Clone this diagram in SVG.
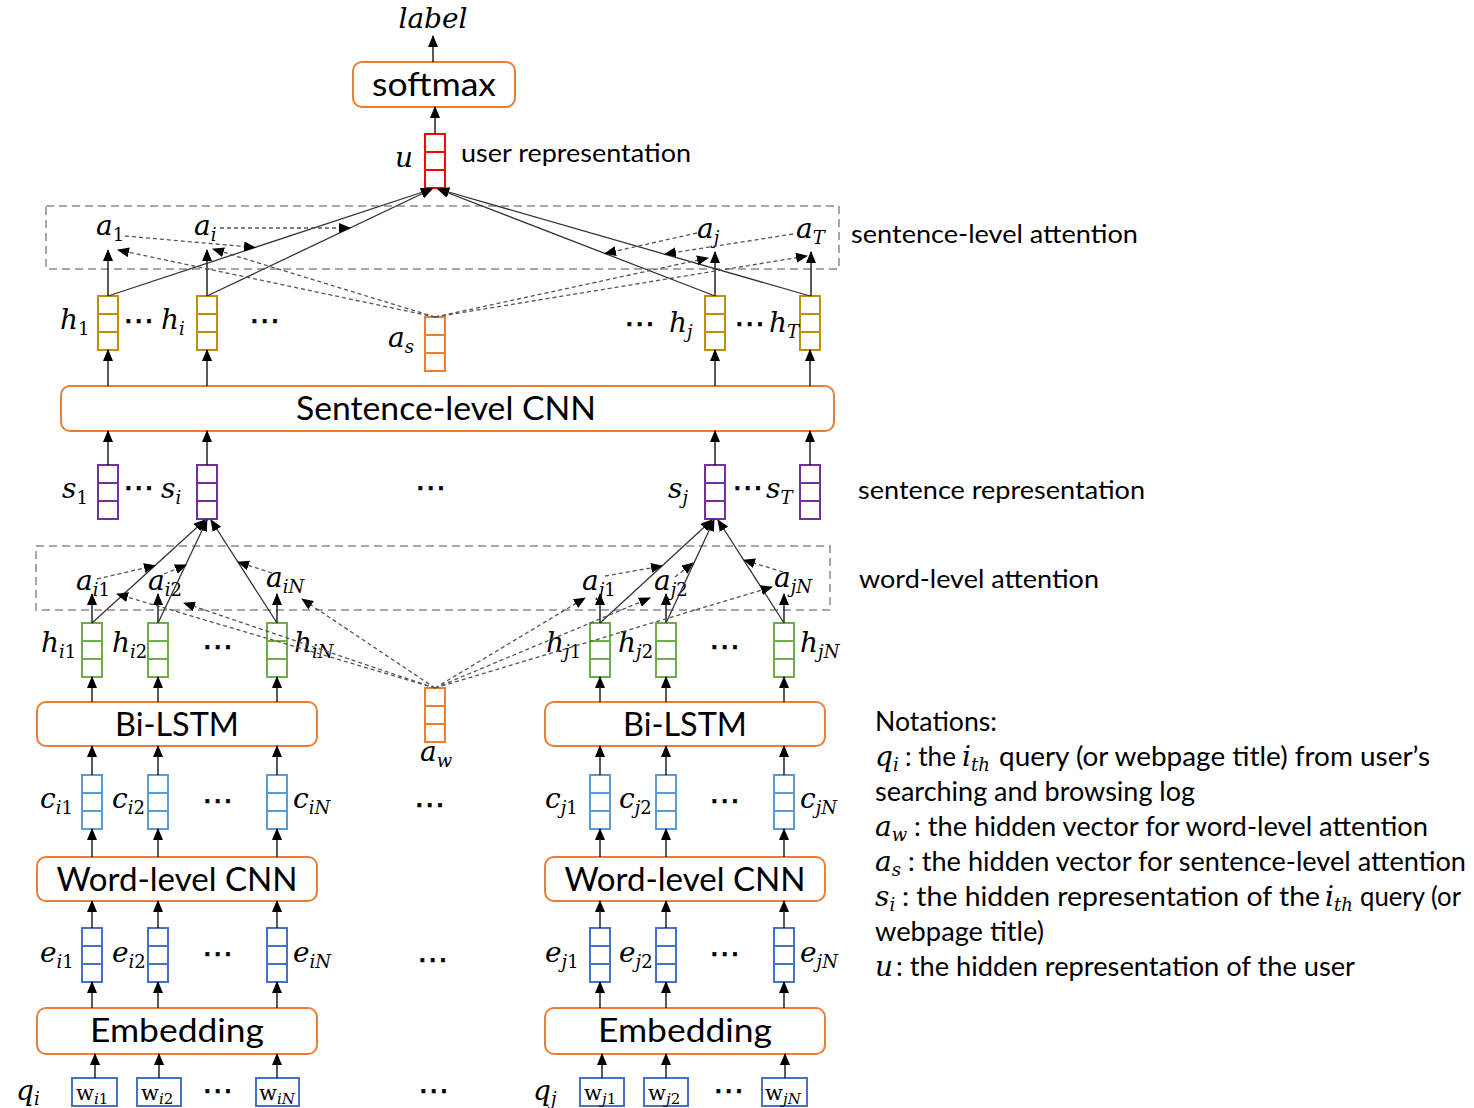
<svg xmlns="http://www.w3.org/2000/svg" width="1474" height="1108" viewBox="0 0 1474 1108">
<defs>
<marker id="ah" viewBox="0 0 12 10" refX="11" refY="5" markerWidth="12" markerHeight="10" markerUnits="userSpaceOnUse" orient="auto"><path d="M0,0 L12,5 L0,10 Z" fill="#000"/></marker>
</defs>
<style>
.box{fill:#fff;stroke:#ED7D31;stroke-width:2}
.bt{font-family:Lato,"Open Sans",sans-serif;font-size:33px;text-anchor:middle;fill:#000}
.t{font-family:Lato,"Open Sans",sans-serif;font-size:25px;fill:#000}
.nt{font-family:Lato,"Open Sans",sans-serif;font-size:27px;fill:#000}
.m{font-family:"DejaVu Serif",serif;font-style:italic;font-size:28px;fill:#000}
.w{font-family:"DejaVu Serif",serif;font-size:21px;fill:#000}
.sb{font-size:18px}
.w .sb{font-size:15px}
.n{font-style:normal}
.dots{font-family:"DejaVu Sans",sans-serif;font-size:31px;fill:#000;stroke:#000;stroke-width:0.6}
.v{fill:none;stroke-width:2}
.red{stroke:#FF0000}.org{stroke:#ED7D31}.gold{stroke:#BF9000}.pur{stroke:#7030A0}.grn{stroke:#70AD47}.lb{stroke:#5B9BD5}.blu{stroke:#4472C4}
.att{fill:none;stroke:#A6A6A6;stroke-width:2;stroke-dasharray:8 5}
.ar{stroke:#000;stroke-width:1.3;fill:none;marker-end:url(#ah)}
.sl{stroke:#333;stroke-width:1.3;fill:none;marker-end:url(#ah)}
.da{stroke:#555;stroke-width:1.3;stroke-dasharray:4 3;fill:none;marker-end:url(#ah)}
</style>
<rect width="1474" height="1108" fill="#fff"/>

<g id="attention-regions">
<rect class="att" x="46" y="206" width="793" height="63"/>
<rect class="att" x="36" y="546" width="794" height="64"/>
<text class="t" x="851" y="243" textLength="287" lengthAdjust="spacingAndGlyphs">sentence-level attention</text>
<text class="t" x="859" y="588" textLength="240" lengthAdjust="spacingAndGlyphs">word-level attention</text>
</g>

<g id="output">
<text class="m" x="433" y="28" text-anchor="middle" font-size="26">label</text>
<g id="softmax"><rect class="box" x="353" y="62" width="162" height="45" rx="9"/><text class="bt" x="434" y="96" textLength="124" lengthAdjust="spacingAndGlyphs">softmax</text></g>
<g id="u"><rect class="v red" x="425" y="134" width="20" height="54"/><path class="v red" d="M425 152h20M425 170h20"/>
<text class="m" x="395" y="167">u</text>
<text class="t" x="461" y="162" textLength="230" lengthAdjust="spacingAndGlyphs">user representation</text></g>
</g>

<g id="sentence-level">
<g id="a-sent-labels">
<text class="m" x="96" y="235">a<tspan class="sb n" dy="6">1</tspan></text>
<text class="m" x="194" y="235">a<tspan class="sb" dy="6">i</tspan></text>
<text class="m" x="697" y="238">a<tspan class="sb" dy="6">j</tspan></text>
<text class="m" x="796" y="238">a<tspan class="sb" dy="6">T</tspan></text>
</g>
<g id="h-sent">
<rect class="v gold" x="98" y="296" width="20" height="54"/><path class="v gold" d="M98 314h20M98 332h20"/>
<rect class="v gold" x="197" y="296" width="20" height="54"/><path class="v gold" d="M197 314h20M197 332h20"/>
<rect class="v gold" x="705" y="296" width="20" height="54"/><path class="v gold" d="M705 314h20M705 332h20"/>
<rect class="v gold" x="800" y="296" width="20" height="54"/><path class="v gold" d="M800 314h20M800 332h20"/>
<text class="m" x="60" y="329">h<tspan class="sb n" dy="6">1</tspan></text>
<text class="dots" x="123" y="331">⋯</text>
<text class="m" x="161" y="329">h<tspan class="sb" dy="6">i</tspan></text>
<text class="dots" x="249" y="331">⋯</text>
<text class="dots" x="624" y="334">⋯</text>
<text class="m" x="669" y="332">h<tspan class="sb" dy="6">j</tspan></text>
<text class="dots" x="734" y="334">⋯</text>
<text class="m" x="769" y="332">h<tspan class="sb" dy="6">T</tspan></text>
</g>
<g id="a_s"><rect class="v org" x="425" y="317" width="20" height="54"/><path class="v org" d="M425 335h20M425 353h20"/>
<text class="m" x="388" y="347">a<tspan class="sb" dy="6">s</tspan></text></g>
<g id="sentence-cnn"><rect class="box" x="61" y="386" width="773" height="45" rx="9"/><text class="bt" x="446" y="420" textLength="300" lengthAdjust="spacingAndGlyphs">Sentence-level CNN</text></g>
<g id="s-vectors">
<rect class="v pur" x="98" y="465" width="20" height="54"/><path class="v pur" d="M98 483h20M98 501h20"/>
<rect class="v pur" x="197" y="465" width="20" height="54"/><path class="v pur" d="M197 483h20M197 501h20"/>
<rect class="v pur" x="705" y="465" width="20" height="54"/><path class="v pur" d="M705 483h20M705 501h20"/>
<rect class="v pur" x="800" y="465" width="20" height="54"/><path class="v pur" d="M800 483h20M800 501h20"/>
<text class="m" x="62" y="498">s<tspan class="sb n" dy="6">1</tspan></text>
<text class="dots" x="123" y="498">⋯</text>
<text class="m" x="161" y="498">s<tspan class="sb" dy="6">i</tspan></text>
<text class="dots" x="415" y="498">⋯</text>
<text class="m" x="668" y="498">s<tspan class="sb" dy="6">j</tspan></text>
<text class="dots" x="732" y="498">⋯</text>
<text class="m" x="766" y="498">s<tspan class="sb" dy="6">T</tspan></text>
<text class="t" x="858" y="499" textLength="287" lengthAdjust="spacingAndGlyphs">sentence representation</text>
</g>
</g>

<g id="word-level">
<g id="a-word-labels">
<text class="m" x="76" y="590">a<tspan class="sb" dy="6">i</tspan><tspan class="sb n">1</tspan></text>
<text class="m" x="148" y="590">a<tspan class="sb" dy="6">i</tspan><tspan class="sb n">2</tspan></text>
<text class="m" x="266" y="587">a<tspan class="sb" dy="6">iN</tspan></text>
<text class="m" x="582" y="590">a<tspan class="sb" dy="6">j</tspan><tspan class="sb n">1</tspan></text>
<text class="m" x="654" y="590">a<tspan class="sb" dy="6">j</tspan><tspan class="sb n">2</tspan></text>
<text class="m" x="774" y="587">a<tspan class="sb" dy="6">jN</tspan></text>
</g>
<g id="h-word">
<rect class="v grn" x="82" y="623" width="20" height="54"/><path class="v grn" d="M82 641h20M82 659h20"/>
<rect class="v grn" x="148" y="623" width="20" height="54"/><path class="v grn" d="M148 641h20M148 659h20"/>
<rect class="v grn" x="267" y="623" width="20" height="54"/><path class="v grn" d="M267 641h20M267 659h20"/>
<rect class="v grn" x="590" y="623" width="20" height="54"/><path class="v grn" d="M590 641h20M590 659h20"/>
<rect class="v grn" x="656" y="623" width="20" height="54"/><path class="v grn" d="M656 641h20M656 659h20"/>
<rect class="v grn" x="774" y="623" width="20" height="54"/><path class="v grn" d="M774 641h20M774 659h20"/>
<text class="m" x="41" y="652">h<tspan class="sb" dy="6">i</tspan><tspan class="sb n">1</tspan></text>
<text class="m" x="112" y="652">h<tspan class="sb" dy="6">i</tspan><tspan class="sb n">2</tspan></text>
<text class="dots" x="202" y="657">⋯</text>
<text class="m" x="294" y="652">h<tspan class="sb" dy="6">iN</tspan></text>
<text class="m" x="546" y="652">h<tspan class="sb" dy="6">j</tspan><tspan class="sb n">1</tspan></text>
<text class="m" x="618" y="652">h<tspan class="sb" dy="6">j</tspan><tspan class="sb n">2</tspan></text>
<text class="dots" x="709" y="657">⋯</text>
<text class="m" x="800" y="652">h<tspan class="sb" dy="6">jN</tspan></text>
</g>
<g id="a_w"><rect class="v org" x="425" y="688" width="20" height="54"/><path class="v org" d="M425 706h20M425 724h20"/>
<text class="m" x="420" y="761">a<tspan class="sb" dy="6">w</tspan></text></g>
<g id="bilstm-i"><rect class="box" x="37" y="702" width="280" height="44" rx="9"/><text class="bt" x="177" y="736" textLength="124" lengthAdjust="spacingAndGlyphs">Bi-LSTM</text></g>
<g id="bilstm-j"><rect class="box" x="545" y="702" width="280" height="44" rx="9"/><text class="bt" x="685" y="736" textLength="124" lengthAdjust="spacingAndGlyphs">Bi-LSTM</text></g>
<g id="c-vectors">
<rect class="v lb" x="82" y="775" width="20" height="54"/><path class="v lb" d="M82 793h20M82 811h20"/>
<rect class="v lb" x="148" y="775" width="20" height="54"/><path class="v lb" d="M148 793h20M148 811h20"/>
<rect class="v lb" x="267" y="775" width="20" height="54"/><path class="v lb" d="M267 793h20M267 811h20"/>
<rect class="v lb" x="590" y="775" width="20" height="54"/><path class="v lb" d="M590 793h20M590 811h20"/>
<rect class="v lb" x="656" y="775" width="20" height="54"/><path class="v lb" d="M656 793h20M656 811h20"/>
<rect class="v lb" x="774" y="775" width="20" height="54"/><path class="v lb" d="M774 793h20M774 811h20"/>
<text class="m" x="40" y="808">c<tspan class="sb" dy="6">i</tspan><tspan class="sb n">1</tspan></text>
<text class="m" x="112" y="808">c<tspan class="sb" dy="6">i</tspan><tspan class="sb n">2</tspan></text>
<text class="dots" x="202" y="811">⋯</text>
<text class="m" x="293" y="808">c<tspan class="sb" dy="6">iN</tspan></text>
<text class="dots" x="414" y="815">⋯</text>
<text class="m" x="545" y="808">c<tspan class="sb" dy="6">j</tspan><tspan class="sb n">1</tspan></text>
<text class="m" x="619" y="808">c<tspan class="sb" dy="6">j</tspan><tspan class="sb n">2</tspan></text>
<text class="dots" x="709" y="811">⋯</text>
<text class="m" x="800" y="808">c<tspan class="sb" dy="6">jN</tspan></text>
</g>
<g id="wcnn-i"><rect class="box" x="37" y="857" width="280" height="44" rx="9"/><text class="bt" x="177" y="891" textLength="241" lengthAdjust="spacingAndGlyphs">Word-level CNN</text></g>
<g id="wcnn-j"><rect class="box" x="545" y="857" width="280" height="44" rx="9"/><text class="bt" x="685" y="891" textLength="241" lengthAdjust="spacingAndGlyphs">Word-level CNN</text></g>
<g id="e-vectors">
<rect class="v blu" x="82" y="928" width="20" height="54"/><path class="v blu" d="M82 946h20M82 964h20"/>
<rect class="v blu" x="148" y="928" width="20" height="54"/><path class="v blu" d="M148 946h20M148 964h20"/>
<rect class="v blu" x="267" y="928" width="20" height="54"/><path class="v blu" d="M267 946h20M267 964h20"/>
<rect class="v blu" x="590" y="928" width="20" height="54"/><path class="v blu" d="M590 946h20M590 964h20"/>
<rect class="v blu" x="656" y="928" width="20" height="54"/><path class="v blu" d="M656 946h20M656 964h20"/>
<rect class="v blu" x="774" y="928" width="20" height="54"/><path class="v blu" d="M774 946h20M774 964h20"/>
<text class="m" x="40" y="962">e<tspan class="sb" dy="6">i</tspan><tspan class="sb n">1</tspan></text>
<text class="m" x="112" y="962">e<tspan class="sb" dy="6">i</tspan><tspan class="sb n">2</tspan></text>
<text class="dots" x="202" y="964">⋯</text>
<text class="m" x="293" y="962">e<tspan class="sb" dy="6">iN</tspan></text>
<text class="dots" x="417" y="970">⋯</text>
<text class="m" x="545" y="962">e<tspan class="sb" dy="6">j</tspan><tspan class="sb n">1</tspan></text>
<text class="m" x="619" y="962">e<tspan class="sb" dy="6">j</tspan><tspan class="sb n">2</tspan></text>
<text class="dots" x="709" y="964">⋯</text>
<text class="m" x="800" y="962">e<tspan class="sb" dy="6">jN</tspan></text>
</g>
<g id="emb-i"><rect class="box" x="37" y="1008" width="280" height="46" rx="9"/><text class="bt" x="177" y="1042" textLength="174" lengthAdjust="spacingAndGlyphs">Embedding</text></g>
<g id="emb-j"><rect class="box" x="545" y="1008" width="280" height="46" rx="9"/><text class="bt" x="685" y="1042" textLength="174" lengthAdjust="spacingAndGlyphs">Embedding</text></g>
<g id="words">
<text class="m" x="16" y="1100">q<tspan class="sb" dy="5">i</tspan></text>
<rect class="v blu" x="72" y="1078" width="45" height="28"/>
<text class="w" x="76" y="1100">w<tspan class="sb" dy="4" font-style="italic">i</tspan><tspan class="sb">1</tspan></text>
<rect class="v blu" x="137" y="1078" width="44" height="28"/>
<text class="w" x="141" y="1100">w<tspan class="sb" dy="4" font-style="italic">i</tspan><tspan class="sb">2</tspan></text>
<text class="dots" x="202" y="1101">⋯</text>
<rect class="v blu" x="256" y="1078" width="43" height="28"/>
<text class="w" x="259" y="1100">w<tspan class="sb" dy="4" font-style="italic">iN</tspan></text>
<text class="dots" x="418" y="1101">⋯</text>
<text class="m" x="533" y="1100">q<tspan class="sb" dy="5">j</tspan></text>
<rect class="v blu" x="580" y="1078" width="44" height="28"/>
<text class="w" x="584" y="1100">w<tspan class="sb" dy="4" font-style="italic">j</tspan><tspan class="sb">1</tspan></text>
<rect class="v blu" x="644" y="1078" width="44" height="28"/>
<text class="w" x="648" y="1100">w<tspan class="sb" dy="4" font-style="italic">j</tspan><tspan class="sb">2</tspan></text>
<text class="dots" x="713" y="1101">⋯</text>
<rect class="v blu" x="762" y="1078" width="45" height="28"/>
<text class="w" x="765" y="1100">w<tspan class="sb" dy="4" font-style="italic">jN</tspan></text>
</g>
</g>

<g id="connectors">
<path class="ar" d="M433 62V36"/>
<path class="ar" d="M435 134V107"/>
<path class="ar" d="M108 296V250"/><path class="ar" d="M207 296V250"/><path class="ar" d="M715 296V252"/><path class="ar" d="M811 296V252"/>
<path class="ar" d="M108 386V350"/><path class="ar" d="M207 386V350"/><path class="ar" d="M715 386V350"/><path class="ar" d="M810 386V350"/>
<path class="ar" d="M108 465V431"/><path class="ar" d="M207 465V431"/><path class="ar" d="M715 465V431"/><path class="ar" d="M810 465V431"/>
<path class="ar" d="M92 623V594"/><path class="ar" d="M158 623V594"/><path class="ar" d="M277 623V594"/><path class="ar" d="M600 623V594"/><path class="ar" d="M666 623V594"/><path class="ar" d="M784 623V594"/>
<path class="ar" d="M92 702V677"/><path class="ar" d="M158 702V677"/><path class="ar" d="M277 702V677"/><path class="ar" d="M600 702V677"/><path class="ar" d="M666 702V677"/><path class="ar" d="M784 702V677"/>
<path class="ar" d="M92 775V746"/><path class="ar" d="M158 775V746"/><path class="ar" d="M277 775V746"/><path class="ar" d="M600 775V746"/><path class="ar" d="M666 775V746"/><path class="ar" d="M784 775V746"/>
<path class="ar" d="M92 857V829"/><path class="ar" d="M158 857V829"/><path class="ar" d="M277 857V829"/><path class="ar" d="M600 857V829"/><path class="ar" d="M666 857V829"/><path class="ar" d="M784 857V829"/>
<path class="ar" d="M92 928V901"/><path class="ar" d="M158 928V901"/><path class="ar" d="M277 928V901"/><path class="ar" d="M600 928V901"/><path class="ar" d="M666 928V901"/><path class="ar" d="M784 928V901"/>
<path class="ar" d="M92 1008V982"/><path class="ar" d="M158 1008V982"/><path class="ar" d="M277 1008V982"/><path class="ar" d="M600 1008V982"/><path class="ar" d="M666 1008V982"/><path class="ar" d="M784 1008V982"/>
<path class="ar" d="M95 1078V1054"/><path class="ar" d="M159 1078V1054"/><path class="ar" d="M277 1078V1054"/><path class="ar" d="M602 1078V1054"/><path class="ar" d="M666 1078V1054"/><path class="ar" d="M785 1078V1054"/>
<path class="sl" d="M108 296L432 189"/>
<path class="sl" d="M207 296L432 189"/>
<path class="sl" d="M715 296L438 189"/>
<path class="sl" d="M810 296L438 189"/>
<path class="sl" d="M92 623L205 520"/>
<path class="sl" d="M158 623L207 520"/>
<path class="sl" d="M277 623L211 520"/>
<path class="sl" d="M600 623L712 520"/>
<path class="sl" d="M666 623L714 520"/>
<path class="sl" d="M784 623L718 520"/>
<path class="da" d="M435 317L118 250"/>
<path class="da" d="M435 317L213 249"/>
<path class="da" d="M435 317L708 258"/>
<path class="da" d="M435 317L807 256"/>
<path class="da" d="M125 236L255 247.5"/>
<path class="da" d="M220 228L350 228"/>
<path class="da" d="M697 233L605 253.5"/>
<path class="da" d="M793 234L665 254"/>
<path class="da" d="M435 688L117 594"/>
<path class="da" d="M435 688L184 603"/>
<path class="da" d="M435 688L302 599"/>
<path class="da" d="M435 688L585 598"/>
<path class="da" d="M435 688L650 598"/>
<path class="da" d="M435 688L772 587"/>
<path class="da" d="M97 579L155 565.6"/>
<path class="da" d="M164 574L186 565"/>
<path class="da" d="M272 573L238 562"/>
<path class="da" d="M605 576L662 566"/>
<path class="da" d="M675 577L693 563"/>
<path class="da" d="M783 572L744 560"/>
</g>

<g id="notations">
<text class="nt" x="875" y="731" textLength="122" lengthAdjust="spacingAndGlyphs">Notations:</text>
<text class="m" x="875" y="766">q<tspan class="sb" dy="5">i</tspan></text>
<text class="nt" x="905" y="766" textLength="51" lengthAdjust="spacingAndGlyphs">: the</text>
<text class="m" x="962" y="766">i<tspan class="sb" dy="5">th</tspan></text>
<text class="nt" x="999" y="766" textLength="431" lengthAdjust="spacingAndGlyphs">query (or webpage title) from user’s</text>
<text class="nt" x="875" y="801" textLength="320" lengthAdjust="spacingAndGlyphs">searching and browsing log</text>
<text class="m" x="875" y="836">a<tspan class="sb" dy="5">w</tspan></text>
<text class="nt" x="914" y="836" textLength="514" lengthAdjust="spacingAndGlyphs">: the hidden vector for word-level attention</text>
<text class="m" x="875" y="871">a<tspan class="sb" dy="5">s</tspan></text>
<text class="nt" x="908" y="871" textLength="558" lengthAdjust="spacingAndGlyphs">: the hidden vector for sentence-level attention</text>
<text class="m" x="875" y="906">s<tspan class="sb" dy="5">i</tspan></text>
<text class="nt" x="902" y="906" textLength="418" lengthAdjust="spacingAndGlyphs">: the hidden representation of the</text>
<text class="m" x="1325" y="906">i<tspan class="sb" dy="5">th</tspan></text>
<text class="nt" x="1360" y="906" textLength="101" lengthAdjust="spacingAndGlyphs">query (or</text>
<text class="nt" x="875" y="941" textLength="169" lengthAdjust="spacingAndGlyphs">webpage title)</text>
<text class="m" x="875" y="976">u</text>
<text class="nt" x="896" y="976" textLength="459" lengthAdjust="spacingAndGlyphs">: the hidden representation of the user</text>
</g>
</svg>
